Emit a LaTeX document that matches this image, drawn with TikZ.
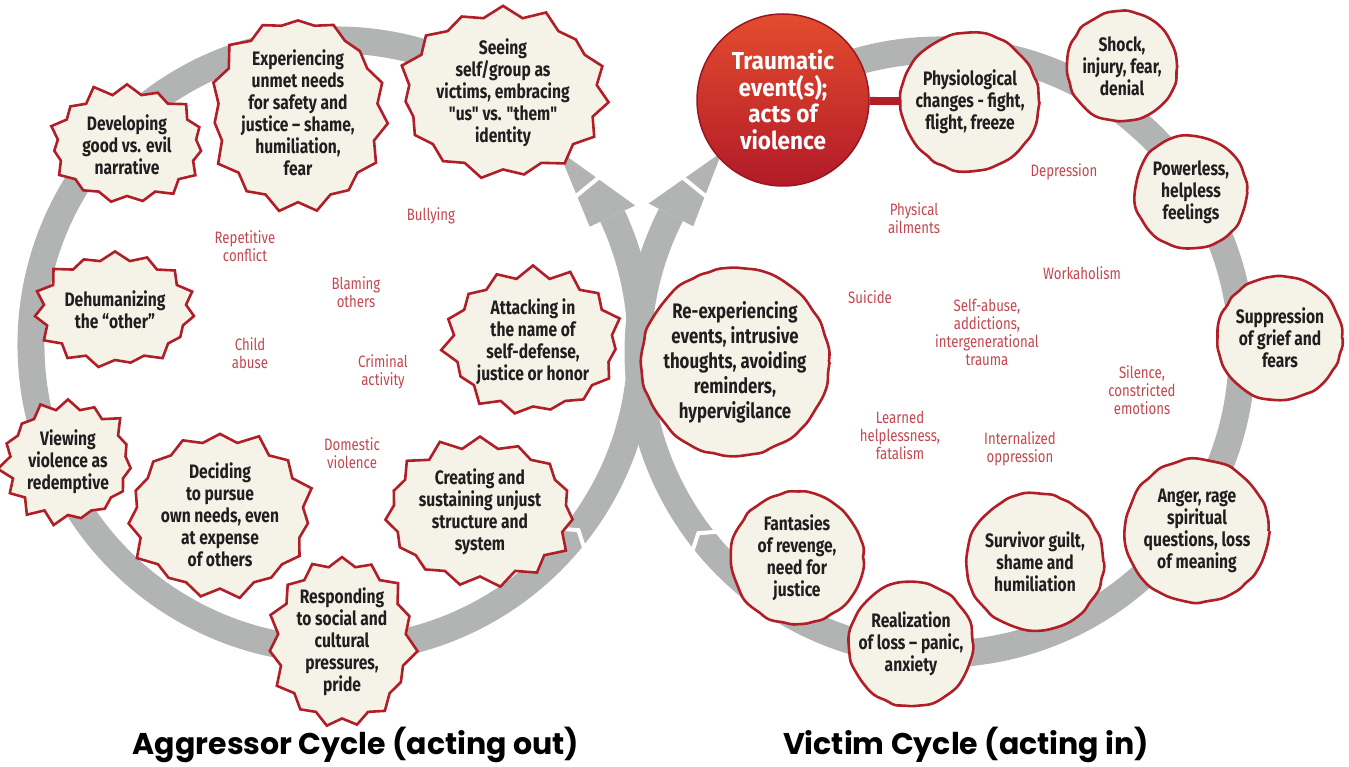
\documentclass[tikz,border=0pt]{standalone}
\usepackage{fontspec}
\setmainfont{Fira Sans}
\newfontfamily\nf{Fira Sans}[FakeStretch=0.8]
\newfontfamily\nfw{Fira Sans}[FakeStretch=0.92]
\newfontfamily\tf{Poppins}
\usetikzlibrary{shapes.symbols,decorations.pathmorphing}
\definecolor{ringgray}{RGB}{178,180,180}
\definecolor{bordred}{RGB}{176,30,40}
\definecolor{cream}{RGB}{245,243,232}
\definecolor{lblred}{RGB}{196,70,78}
\definecolor{trtop}{RGB}{228,76,46}
\definecolor{trbot}{RGB}{178,26,40}
\pgfdeclarelayer{bg}
\pgfsetlayers{bg,main}
\begin{document}
\begin{tikzpicture}[x=1pt,y=-1pt,
  band/.style={draw=ringgray, line width=27pt},
  cut/.style={draw=white, line width=4pt},
  head/.style={fill=ringgray},
  aggr/.style={starburst, starburst points=15, starburst point height=13pt, draw=bordred, line width=2.6pt, fill=cream, align=center, inner sep=0pt, font=\nf\bfseries\fontsize{19.5}{22}\selectfont, text=black!88},
  vict/.style={circle, draw=bordred, line width=2.6pt, fill=cream, align=center, inner sep=0pt, font=\nf\bfseries\fontsize{19.5}{22}\selectfont, text=black!88, decorate, decoration={random steps, segment length=9pt, amplitude=1.3pt}, rounded corners=4pt},
  lbl/.style={text=lblred, align=center, font=\nf\fontsize{16.5}{18}\selectfont},
  conn/.style={draw=bordred, line width=8pt},
  title/.style={font=\tf\bfseries\fontsize{30}{32}\selectfont, text=black}
]
\useasboundingbox (0,0) rectangle (1349,767);
\coordinate (L) at (336,345);
\coordinate (R) at (940,352);
\begin{pgfonlayer}{bg}
\draw[band] (L) ++(-56:305) arc[start angle=-56, end angle=-385, radius=305];
\draw[band] (R) ++(-124:302) arc[start angle=-124, end angle=207, radius=302];
\fill[head] (635.1,205.5) -- (558,150) -- (589.7,226.7) -- cycle;
\fill[head] (648.6,203.5) -- (722,152) -- (693.2,226.3) -- cycle;
\draw[cut] (564.7,205.5) -- (611.1,167.3);
\draw[cut] (670.6,167.7) -- (717.2,205.5);
\draw[cut] (556.9,528.4) -- (578.4,530.2) -- (585.1,550.8);
\draw[cut] (719.9,531.6) -- (698.3,533.2) -- (691.5,553.7);
\end{pgfonlayer}

% aggressor cycle
\node[aggr, minimum width=165pt, minimum height=128pt, random starburst=11] (devl) at (127,145) {Developing\\good vs. evil\\narrative};
\node[aggr, minimum width=168pt, minimum height=188pt, random starburst=23] (expr) at (298,113) {Experiencing\\unmet needs\\for safety and\\justice – shame,\\humiliation,\\fear};
\node[aggr, minimum width=165pt, minimum height=172pt, random starburst=37] (seeing) at (503,93) {Seeing\\self/group as\\victims, embracing\\"us" vs. "them"\\identity};
\node[aggr, minimum width=158pt, minimum height=126pt, random starburst=41] (dehum) at (115,310) {Dehumanizing\\the “other”};
\node[aggr, minimum width=180pt, minimum height=155pt, random starburst=53] (attack) at (533,342) {Attacking in\\the name of\\self-defense,\\justice or honor};
\node[aggr, minimum width=125pt, minimum height=132pt, random starburst=67] (view) at (68,462) {Viewing\\violence as\\redemptive};
\node[aggr, minimum width=162pt, minimum height=160pt, random starburst=71] (decid) at (220,515) {Deciding\\to pursue\\own needs, even\\at expense\\of others};
\node[aggr, minimum width=170pt, minimum height=155pt, random starburst=83] (creat) at (480,512) {Creating and\\sustaining unjust\\structure and\\system};
\node[aggr, minimum width=150pt, minimum height=162pt, random starburst=97] (resp) at (342,642) {Responding\\to social and\\cultural\\pressures,\\pride};

% victim cycle
\node[circle, minimum size=172pt, inner sep=0pt, top color=trtop, bottom color=trbot, draw=trbot!85!black, line width=1.5pt, text=white, align=center, font=\nfw\bfseries\fontsize{24.5}{26.5}\selectfont] (trauma) at (783,100) {Traumatic\\event(s);\\acts of\\violence};
\node[vict, minimum size=138pt] (phys) at (970,102) {Physiological\\changes - fight,\\flight, freeze};
\node[vict, minimum size=110pt] (shock) at (1122,66) {Shock,\\injury, fear,\\denial};
\node[vict, minimum size=112pt] (power) at (1191,192) {Powerless,\\helpless\\feelings};
\node[vict, minimum size=124pt] (supp) at (1280,338) {Suppression\\of grief and\\fears};
\node[vict, minimum size=143pt] (anger) at (1197,531) {Anger, rage\\spiritual\\questions, loss\\of meaning};
\node[vict, minimum size=137pt] (surv) at (1035,562) {Survivor guilt,\\shame and\\humiliation};
\node[vict, minimum size=124pt] (realz) at (911,644) {Realization\\of loss – panic,\\anxiety};
\node[vict, minimum size=132pt] (fant) at (797,558) {Fantasies\\of revenge,\\need for\\justice};
\node[vict, minimum size=185pt, font=\nf\bfseries\fontsize{21}{25}\selectfont] (reexp) at (735,362) {Re-experiencing\\events, intrusive\\thoughts, avoiding\\reminders,\\hypervigilance};

\begin{pgfonlayer}{bg}
\draw[conn] (trauma) -- (phys);
\end{pgfonlayer}

% labels
\node[lbl] (l1) at (431,216) {Bullying};
\node[lbl] (l2) at (245,246) {Repetitive\\conflict};
\node[lbl] (l3) at (356,292) {Blaming\\others};
\node[lbl] (l4) at (250,353) {Child\\abuse};
\node[lbl] (l5) at (383,372) {Criminal\\activity};
\node[lbl] (l6) at (352,453) {Domestic\\violence};
\node[lbl] (r1) at (1064,172) {Depression};
\node[lbl] (r2) at (914,218) {Physical\\ailments};
\node[lbl] (r3) at (1082,273) {Workaholism};
\node[lbl] (r4) at (870,297) {Suicide};
\node[lbl] (r5) at (987,332) {Self-abuse,\\addictions,\\intergenerational\\trauma};
\node[lbl] (r6) at (1142,390) {Silence,\\constricted\\emotions};
\node[lbl] (r7) at (900,435) {Learned\\helplessness,\\fatalism};
\node[lbl] (r8) at (1020,449) {Internalized\\oppression};

\node[title] (t1) at (356,745) {Aggressor Cycle (acting out)};
\node[title] (t2) at (966,745) {Victim Cycle (acting in)};
\end{tikzpicture}
\end{document}
